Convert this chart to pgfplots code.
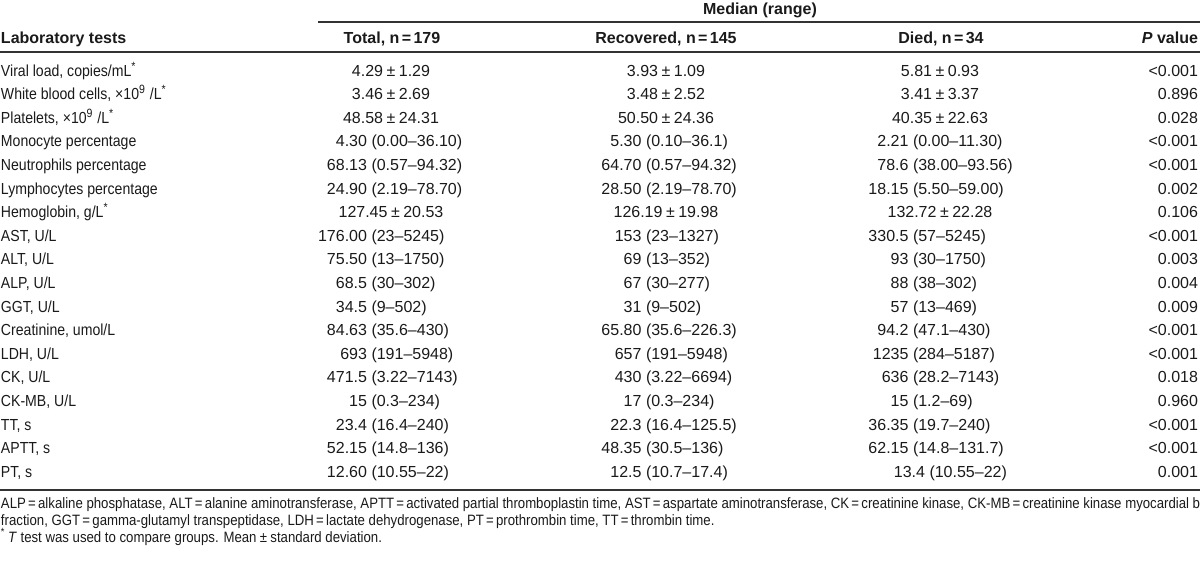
\documentclass[border=0pt]{standalone}
\usepackage{pgfplots}
\pgfplotsset{compat=1.18}
\usepackage{fontspec}
\setmainfont{Liberation Sans}
\newfontfamily\narrow[FakeStretch=0.88]{Liberation Sans}
\definecolor{txt}{HTML}{1A1A1A}
\definecolor{rulec}{HTML}{333333}
\newcommand\EQ{\kern0.15em=\kern0.15em}
\newcommand\PMS{\kern0.22em±\kern0.22em}
\newcommand\cv[3]{\node[anchor=base] at (axis cs:#1,#2) {#3};}
\newcommand\crng[4]{\node[anchor=base east] at (axis cs:#1,#2) {#3};\node[anchor=base west] at (axis cs:#1+4.5,#2) {(#4)};}
\newcommand\pv[2]{\node[anchor=base east] at (axis cs:1198,#1) {#2};}
\newcommand\lab[2]{\node[anchor=base west, font=\fontsize{8}{9}\selectfont\narrow] at (axis cs:1,#1) {#2};}
\begin{document}
\begin{tikzpicture}[every node/.append style={inner sep=0pt, outer sep=0pt, text=txt, font=\fontsize{8}{9}\selectfont}]
\begin{axis}[width=600pt, height=281pt, scale only axis, xmin=0, xmax=1200, ymin=0, ymax=562, y dir=reverse, hide axis, clip=false]
% rules
\draw[rulec, line width=0.75pt] (axis cs:318,22) -- (axis cs:1200,22);
\draw[rulec, line width=0.75pt] (axis cs:0,52) -- (axis cs:1200,52);
\draw[rulec, line width=0.75pt] (axis cs:0,490) -- (axis cs:1200,490);
% headers
\node[anchor=base, font=\fontsize{8}{9}\selectfont\bfseries] at (axis cs:760,14) {Median (range)};
\node[anchor=base west, font=\fontsize{8}{9}\selectfont\bfseries] at (axis cs:1,43) {Laboratory tests};
\node[anchor=base, font=\fontsize{8}{9}\selectfont\bfseries] at (axis cs:392,43) {Total, n\EQ 179};
\node[anchor=base, font=\fontsize{8}{9}\selectfont\bfseries] at (axis cs:666,43) {Recovered, n\EQ 145};
\node[anchor=base, font=\fontsize{8}{9}\selectfont\bfseries] at (axis cs:941,43) {Died, n\EQ 34};
\node[anchor=base east, font=\fontsize{8}{9}\selectfont\bfseries] at (axis cs:1198,43) {\textit{P} value};
% row labels
\lab{76}{Viral load, copies/mL\textsuperscript{*}}
\lab{99.6}{White blood cells, ×10\textsuperscript{9} /L\textsuperscript{*}}
\lab{123.2}{Platelets, ×10\textsuperscript{9} /L\textsuperscript{*}}
\lab{146.8}{Monocyte percentage}
\lab{170.4}{Neutrophils percentage}
\lab{194}{Lymphocytes percentage}
\lab{217.6}{Hemoglobin, g/L\textsuperscript{*}}
\lab{241.2}{AST, U/L}
\lab{264.8}{ALT, U/L}
\lab{288.4}{ALP, U/L}
\lab{312}{GGT, U/L}
\lab{335.6}{Creatinine, umol/L}
\lab{359.2}{LDH, U/L}
\lab{382.8}{CK, U/L}
\lab{406.4}{CK-MB, U/L}
\lab{430}{TT, s}
\lab{453.6}{APTT, s}
\lab{477.2}{PT, s}
% Total column
\cv{391}{76}{4.29\PMS 1.29}
\cv{391}{99.6}{3.46\PMS 2.69}
\cv{391}{123.2}{48.58\PMS 24.31}
\crng{367}{146.8}{4.30}{0.00–36.10}
\crng{367}{170.4}{68.13}{0.57–94.32}
\crng{367}{194}{24.90}{2.19–78.70}
\cv{391}{217.6}{127.45\PMS 20.53}
\crng{367}{241.2}{176.00}{23–5245}
\crng{367}{264.8}{75.50}{13–1750}
\crng{367}{288.4}{68.5}{30–302}
\crng{367}{312}{34.5}{9–502}
\crng{367}{335.6}{84.63}{35.6–430}
\crng{367}{359.2}{693}{191–5948}
\crng{367}{382.8}{471.5}{3.22–7143}
\crng{367}{406.4}{15}{0.3–234}
\crng{367}{430}{23.4}{16.4–240}
\crng{367}{453.6}{52.15}{14.8–136}
\crng{367}{477.2}{12.60}{10.55–22}
% Recovered column
\cv{666}{76}{3.93\PMS 1.09}
\cv{666}{99.6}{3.48\PMS 2.52}
\cv{666}{123.2}{50.50\PMS 24.36}
\crng{641.5}{146.8}{5.30}{0.10–36.1}
\crng{641.5}{170.4}{64.70}{0.57–94.32}
\crng{641.5}{194}{28.50}{2.19–78.70}
\cv{666}{217.6}{126.19\PMS 19.98}
\crng{641.5}{241.2}{153}{23–1327}
\crng{641.5}{264.8}{69}{13–352}
\crng{641.5}{288.4}{67}{30–277}
\crng{641.5}{312}{31}{9–502}
\crng{641.5}{335.6}{65.80}{35.6–226.3}
\crng{641.5}{359.2}{657}{191–5948}
\crng{641.5}{382.8}{430}{3.22–6694}
\crng{641.5}{406.4}{17}{0.3–234}
\crng{641.5}{430}{22.3}{16.4–125.5}
\crng{641.5}{453.6}{48.35}{30.5–136}
\crng{641.5}{477.2}{12.5}{10.7–17.4}
% Died column
\cv{940}{76}{5.81\PMS 0.93}
\cv{940}{99.6}{3.41\PMS 3.37}
\cv{940}{123.2}{40.35\PMS 22.63}
\crng{908.5}{146.8}{2.21}{0.00–11.30}
\crng{908.5}{170.4}{78.6}{38.00–93.56}
\crng{908.5}{194}{18.15}{5.50–59.00}
\cv{940}{217.6}{132.72\PMS 22.28}
\crng{908.5}{241.2}{330.5}{57–5245}
\crng{908.5}{264.8}{93}{30–1750}
\crng{908.5}{288.4}{88}{38–302}
\crng{908.5}{312}{57}{13–469}
\crng{908.5}{335.6}{94.2}{47.1–430}
\crng{908.5}{359.2}{1235}{284–5187}
\crng{908.5}{382.8}{636}{28.2–7143}
\crng{908.5}{406.4}{15}{1.2–69}
\crng{908.5}{430}{36.35}{19.7–240}
\crng{908.5}{453.6}{62.15}{14.8–131.7}
\crng{925}{477.2}{13.4}{10.55–22}
% P values
\pv{76}{<0.001}
\pv{99.6}{0.896}
\pv{123.2}{0.028}
\pv{146.8}{<0.001}
\pv{170.4}{<0.001}
\pv{194}{0.002}
\pv{217.6}{0.106}
\pv{241.2}{<0.001}
\pv{264.8}{0.003}
\pv{288.4}{0.004}
\pv{312}{0.009}
\pv{335.6}{<0.001}
\pv{359.2}{<0.001}
\pv{382.8}{0.018}
\pv{406.4}{0.960}
\pv{430}{<0.001}
\pv{453.6}{<0.001}
\pv{477.2}{0.001}
% footnotes
\node[anchor=base west, font=\fontsize{7.5}{8}\selectfont\narrow] at (axis cs:1,508) {ALP\EQ alkaline phosphatase, ALT\EQ alanine aminotransferase, APTT\EQ activated partial thromboplastin time, AST\EQ aspartate aminotransferase, CK\EQ creatinine kinase, CK-MB\EQ creatinine kinase myocardial b};
\node[anchor=base west, font=\fontsize{7.5}{8}\selectfont\narrow] at (axis cs:1,525) {fraction, GGT\EQ gamma-glutamyl transpeptidase, LDH\EQ lactate dehydrogenase, PT\EQ prothrombin time, TT\EQ thrombin time.};
\node[anchor=base west, font=\fontsize{7.5}{8}\selectfont\narrow] at (axis cs:1,542) {\textsuperscript{*}\,\textit{T} test was used to compare groups. Mean\PMS standard deviation.};
\end{axis}
\pgfresetboundingbox
\path (current axis.south west) rectangle (current axis.north east);
\end{tikzpicture}
\end{document}
